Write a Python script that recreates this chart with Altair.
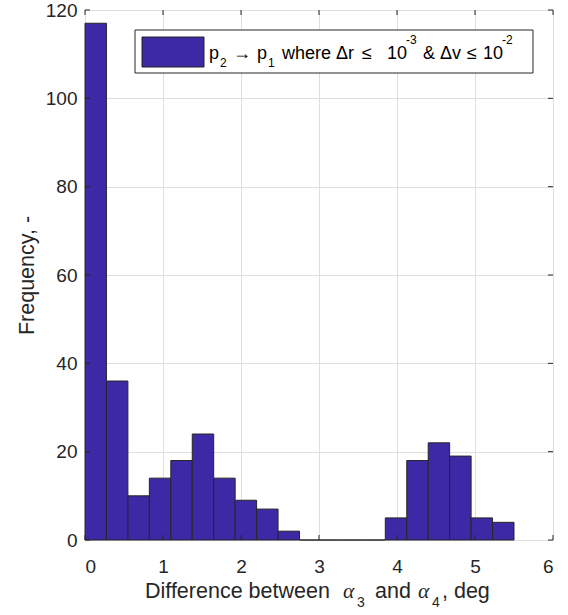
import altair as alt
import pandas as pd

bin_start = [0.0, 0.275, 0.55, 0.825, 1.1, 1.375, 1.65, 1.925, 2.2, 2.475,
             2.75, 3.025, 3.3, 3.575, 3.85, 4.125, 4.4, 4.675, 4.95, 5.225]
bin_end = [0.275, 0.55, 0.825, 1.1, 1.375, 1.65, 1.925, 2.2, 2.475, 2.75,
           3.025, 3.3, 3.575, 3.85, 4.125, 4.4, 4.675, 4.95, 5.225, 5.5]
counts = [117, 36, 10, 14, 18, 24, 14, 9, 7, 2,
          0, 0, 0, 0, 5, 18, 22, 19, 5, 4]
x_ticks = [0, 1, 2, 3, 4, 5, 6]
y_ticks = [0, 20, 40, 60, 80, 100, 120]
y_title = "Frequency, -"

# legend label "p2 -> p1 where Δr ≤ 10^-3 & Δv ≤ 10^-2", split into normal / sub / sup pieces
legend_text = ["p", "2", "\u2192", "p", "1", "where \u0394r", "\u2264", "10", "-3", "&", "\u0394v", "\u2264", "10", "-2"]
legend_kind = ["n", "sub", "n", "n", "sub", "n", "n", "n", "sup", "n", "n", "n", "n", "sup"]
# x title "Difference between α3 and α4, deg"
xtitle_text = ["Difference between", "\u03b1", "3", "and", "\u03b1", "4", ", deg"]
xtitle_kind = ["n", "greek", "sub", "n", "greek", "sub", "n"]

# layout (pixels, plot-area coordinates)
legend_x = [124, 135, 148, 172, 183, 197, 277, 302, 321, 338, 355, 382, 398, 417]
xtitle_x = [60, 258, 272, 290, 333, 347, 357]

df = pd.DataFrame({"x0": bin_start, "x1": bin_end, "n": counts})
xt = pd.DataFrame({"t": x_ticks})
yt = pd.DataFrame({"t": y_ticks})
one = pd.DataFrame({"k": [0]})

FONT = "Liberation Sans"
AX = "#262626"
BAR = "#3D28A6"
W, H = 468, 530

xs = alt.Scale(domain=[0, 6], nice=False, zero=False)
ys = alt.Scale(domain=[0, 120], nice=False)

bars = alt.Chart(df).mark_bar(stroke=AX, strokeWidth=1, opacity=1, color=BAR).encode(
    x=alt.X("x0:Q", scale=xs, axis=alt.Axis(
        values=x_ticks, format="d", title=None,
        labelFont=FONT, labelFontSize=19, labelColor=AX, labelPadding=17,
        tickSize=0, domain=False, gridColor="#dedede", gridWidth=1)),
    x2="x1:Q",
    y=alt.Y("n:Q", scale=ys, axis=alt.Axis(
        values=y_ticks, format="d", title=y_title,
        titleFont=FONT, titleFontSize=21.5, titleFontWeight="normal", titleColor=AX, titlePadding=7,
        labelFont=FONT, labelFontSize=19, labelColor=AX, labelPadding=8,
        tickSize=0, domain=False, gridColor="#dedede", gridWidth=1)),
    y2=alt.datum(0),
)

tick_len = 5
xb = alt.Chart(xt).mark_rule(color=AX, strokeWidth=1).encode(
    x=alt.X("t:Q", scale=xs), y=alt.value(H), y2=alt.value(H - tick_len))
xtop = alt.Chart(xt).mark_rule(color=AX, strokeWidth=1).encode(
    x=alt.X("t:Q", scale=xs), y=alt.value(0), y2=alt.value(tick_len))
yl = alt.Chart(yt).mark_rule(color=AX, strokeWidth=1).encode(
    y=alt.Y("t:Q", scale=ys), x=alt.value(0), x2=alt.value(tick_len))
yr = alt.Chart(yt).mark_rule(color=AX, strokeWidth=1).encode(
    y=alt.Y("t:Q", scale=ys), x=alt.value(W), x2=alt.value(W - tick_len))


def piece(text, x, y, size, font=FONT, style="normal", color=AX):
    return alt.Chart(one).mark_text(
        text=text, align="left", baseline="alphabetic", font=font, fontSize=size,
        fontStyle=style, color=color,
    ).encode(x=alt.value(x), y=alt.value(y))


layers = [bars, xb, xtop, yl, yr]

# legend box and swatch
layers.append(alt.Chart(one).mark_rect(fill="white", stroke=AX, strokeWidth=1).encode(
    x=alt.value(50), x2=alt.value(448), y=alt.value(20), y2=alt.value(63)))
layers.append(alt.Chart(one).mark_rect(fill=BAR, stroke=AX, strokeWidth=1).encode(
    x=alt.value(57), x2=alt.value(119), y=alt.value(27), y2=alt.value(57)))
for t, k, x in zip(legend_text, legend_kind, legend_x):
    if k == "sub":
        layers.append(piece(t, x, 57, 12, color="#000000"))
    elif k == "sup":
        layers.append(piece(t, x, 34, 12, color="#000000"))
    else:
        layers.append(piece(t, x, 49, 18, color="#000000"))

# x-axis title
for t, k, x in zip(xtitle_text, xtitle_kind, xtitle_x):
    if k == "sub":
        layers.append(piece(t, x, 597, 14))
    elif k == "greek":
        layers.append(piece(t, x, 588, 21.5, font="Liberation Serif", style="italic"))
    else:
        layers.append(piece(t, x, 588, 21.5))

chart = alt.layer(*layers).properties(
    width=W, height=H,
    autosize=alt.AutoSizeParams(type="none"),
    padding={"left": 85, "top": 10, "right": 15, "bottom": 75},
).configure_view(stroke=AX, strokeWidth=1.2).configure(background="white")

chart.save("out.html", embed_options={"renderer": "svg", "actions": False})
